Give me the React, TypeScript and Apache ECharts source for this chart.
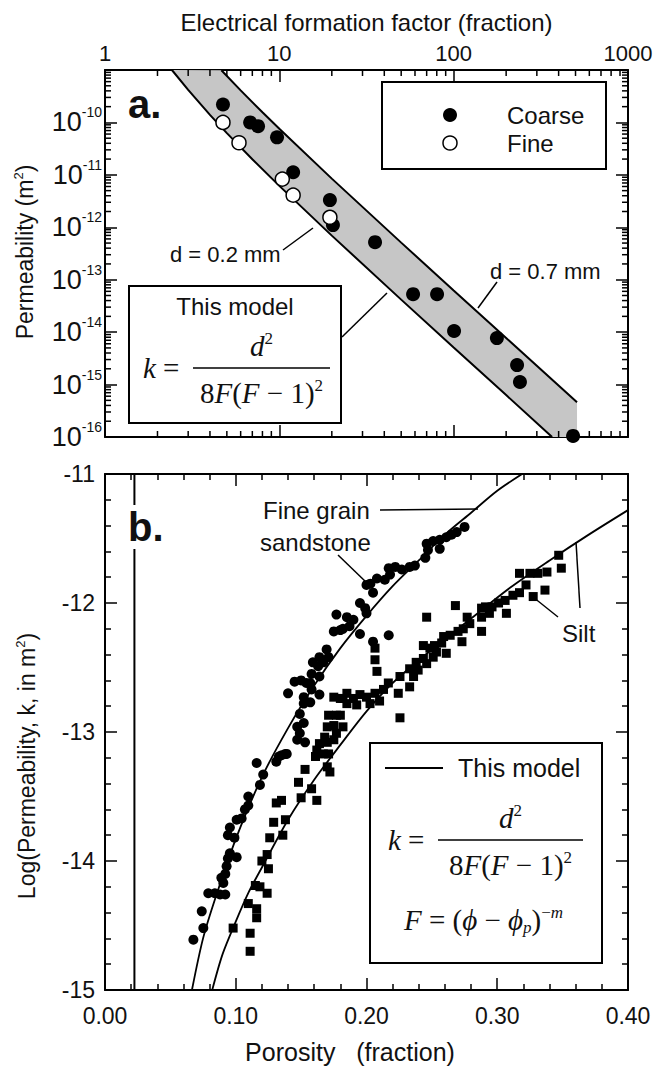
import React, { useEffect, useRef } from "react";
import * as echarts from "echarts";

const SANS = '"Liberation Sans", Arial, Helvetica, sans-serif';
const SERIF = '"Liberation Serif", "Times New Roman", "DejaVu Serif", serif';

// ---------------- Panel a: permeability vs formation factor ----------------
const formationTicks = [1, 10, 100, 1000];
const formationMin = 1;
const formationMax = 1000;
const permMin = 1e-16;
const permMax = 1e-9;

const coarseF = [4.75, 6.8, 7.55, 9.7, 12.0, 19.5, 20.3, 35.4, 58.5, 80.3, 100.5, 177, 231, 240, 484];
const coarseK = [2.2e-10, 1.0e-10, 8.5e-11, 5.2e-11, 1.12e-11, 3.3e-12, 1.1e-12, 5.2e-13, 5.3e-14, 5.3e-14, 1.05e-14, 7.7e-15, 2.35e-15, 1.12e-15, 1.05e-16];
const fineF = [4.75, 5.87, 10.4, 12.0, 19.5];
const fineK = [1.0e-10, 4.1e-11, 8.3e-12, 4.1e-12, 1.55e-12];

// band boundaries (d = 0.2 mm lower, d = 0.7 mm upper)
const bandLowF = [2.42, 3, 4, 5, 7, 10, 20, 50, 100, 200, 367];
const bandLowK = [1.0e-9, 4.17e-10, 1.39e-10, 6.25e-11, 1.98e-11, 6.17e-12, 6.93e-13, 4.17e-14, 5.1e-15, 6.31e-16, 1.0e-16];
const bandHighF = [4.65, 6, 8, 10, 20, 50, 100, 200, 510];
const bandHighK = [9.9e-10, 4.08e-10, 1.56e-10, 7.56e-11, 8.48e-12, 5.1e-13, 6.25e-14, 7.73e-15, 4.6e-16];

// ---------------- Panel b: log permeability vs porosity ----------------
const porosityTicks = [0, 0.1, 0.2, 0.3, 0.4];
const logKTicks = [-15, -14, -13, -12, -11];
const percolationPorosity = 0.0225;

const sandstoneCurve: [number, number][] = [
  [0.0665, -15.0], [0.075, -14.6], [0.085, -14.27], [0.1, -13.83], [0.12, -13.35], [0.14, -12.97],
  [0.16, -12.64], [0.18, -12.35], [0.2, -12.1], [0.22, -11.87], [0.24, -11.67], [0.26, -11.47],
  [0.28, -11.3], [0.3, -11.13], [0.319, -11.0],
];
const siltCurve: [number, number][] = [
  [0.082, -15.0], [0.09, -14.72], [0.1, -14.47], [0.11, -14.24], [0.12, -14.05], [0.14, -13.68],
  [0.16, -13.37], [0.18, -13.1], [0.2, -12.84], [0.22, -12.62], [0.25, -12.36], [0.28, -12.12],
  [0.31, -11.88], [0.34, -11.67], [0.37, -11.47], [0.4, -11.28],
];

const sandstonePoints: [number, number][] = [
  [0.0676, -14.61], [0.0752, -14.52], [0.074, -14.39], [0.079, -14.25], [0.084, -14.25], [0.088, -14.26],
  [0.092, -14.26], [0.0905, -14.17], [0.089, -14.13], [0.092, -14.1], [0.093, -14.04], [0.094, -13.98],
  [0.1007, -13.97], [0.0955, -13.94], [0.094, -13.8], [0.099, -13.82], [0.0955, -13.74], [0.1007, -13.68],
  [0.1045, -13.67], [0.107, -13.6], [0.1096, -13.57], [0.1096, -13.5], [0.1185, -13.41], [0.121, -13.33],
  [0.116, -13.24], [0.131, -13.23], [0.135, -13.18], [0.139, -13.17], [0.147, -13.06], [0.153, -13.08],
  [0.138, -13.17], [0.133, -13.19],
  [0.149, -13.01], [0.152, -12.93], [0.147, -12.96], [0.149, -12.86], [0.152, -12.78], [0.157, -12.77],
  [0.152, -12.73], [0.164, -12.71], [0.158, -12.67], [0.154, -12.62], [0.14, -12.7], [0.145, -12.61],
  [0.15, -12.6], [0.157, -12.62], [0.164, -12.57], [0.158, -12.55], [0.163, -12.49], [0.159, -12.46],
  [0.167, -12.46], [0.164, -12.42], [0.171, -12.42], [0.1695, -12.36], [0.175, -12.22], [0.18, -12.21],
  [0.182, -12.2], [0.187, -12.18], [0.19, -12.13], [0.177, -12.09], [0.185, -12.11], [0.195, -12.24],
  [0.217, -12.25], [0.205, -12.3], [0.195, -12.0], [0.199, -12.04], [0.2, -12.08], [0.2, -11.86],
  [0.205, -11.92], [0.203, -11.85], [0.208, -11.81], [0.214, -11.82], [0.218, -11.78], [0.217, -11.73],
  [0.222, -11.72], [0.227, -11.74], [0.233, -11.72], [0.237, -11.71], [0.245, -11.65], [0.247, -11.59],
  [0.256, -11.58], [0.246, -11.54], [0.251, -11.52], [0.256, -11.51], [0.261, -11.49], [0.265, -11.47],
  [0.269, -11.45], [0.275, -11.41],
];

const siltPoints: [number, number][] = [
  [0.098, -14.52], [0.111, -14.56], [0.111, -14.7], [0.1096, -14.33], [0.116, -14.37], [0.116, -14.44],
  [0.115, -14.19], [0.1185, -14.2], [0.124, -14.25], [0.125, -14.06], [0.12, -14.0], [0.124, -13.95],
  [0.126, -13.82], [0.136, -13.8], [0.129, -13.7], [0.138, -13.68], [0.131, -13.55], [0.135, -13.53],
  [0.148, -13.39], [0.15, -13.51], [0.162, -13.53], [0.153, -13.29], [0.158, -13.44], [0.161, -13.19],
  [0.167, -13.17], [0.17, -13.27], [0.172, -13.31], [0.164, -13.09], [0.17, -13.08], [0.175, -13.06],
  [0.162, -13.14], [0.171, -13.17], [0.168, -13.04], [0.177, -13.01], [0.182, -12.96], [0.17, -12.96],
  [0.175, -12.95], [0.171, -12.87], [0.177, -12.87], [0.185, -12.7], [0.182, -12.74], [0.175, -12.73],
  [0.18, -12.74], [0.19, -12.74], [0.195, -12.71], [0.2, -12.73], [0.2065, -12.7], [0.213, -12.67],
  [0.2027, -12.78], [0.21, -12.76], [0.1925, -12.79], [0.185, -12.78], [0.18, -12.87], [0.2256, -12.89],
  [0.2167, -12.62], [0.2243, -12.7], [0.2256, -12.57], [0.233, -12.65], [0.236, -12.57], [0.2395, -12.52],
  [0.233, -12.51], [0.238, -12.46], [0.246, -12.47], [0.2435, -12.43], [0.251, -12.42], [0.2485, -12.35],
  [0.2435, -12.33], [0.2535, -12.38], [0.261, -12.39], [0.252, -12.33], [0.2575, -12.31], [0.273, -12.3],
  [0.264, -12.25], [0.259, -12.26], [0.27, -12.22], [0.288, -12.22], [0.274, -12.2], [0.279, -12.16],
  [0.277, -12.11], [0.246, -12.11], [0.268, -12.02], [0.288, -12.11], [0.294, -12.08], [0.307, -12.08],
  [0.288, -12.04], [0.291, -12.03], [0.296, -12.03], [0.301, -12.0], [0.306, -11.98], [0.312, -11.94],
  [0.317, -11.92], [0.3365, -11.9], [0.3275, -11.95], [0.322, -11.86], [0.317, -11.77], [0.325, -11.77],
  [0.331, -11.77], [0.338, -11.76], [0.349, -11.73], [0.347, -11.63], [0.2065, -12.35], [0.2065, -12.44],
  [0.208, -12.53],
];

// ---------------- layout ----------------
const GA = { left: 105, top: 70, width: 523, height: 367 };
const GB = { left: 105, top: 474, width: 523, height: 516 };

function buildOption() {
  const frameLine = { show: true, onZero: false, lineStyle: { color: "#000", width: 2 } };
  const tickIn = { show: true, inside: true, length: 12, lineStyle: { color: "#000", width: 1.5 } };
  const noSplit = { show: false };

  // decorative minor ticks of the log axes (2..9 within each decade)
  const minorX: number[][] = [];
  for (let dec = formationMin; dec < formationMax; dec *= 10)
    for (let m = 2; m <= 9; m++) minorX.push([dec * m, 1e-12]);
  const minorY: number[][] = [];
  for (let e = -16; e < -9; e++)
    for (let m = 2; m <= 9; m++) minorY.push([10, m * Math.pow(10, e)]);

  const tickLine = (x1: number, y1: number, x2: number, y2: number) => ({
    type: "line",
    shape: { x1, y1, x2, y2 },
    style: { stroke: "#000", lineWidth: 1.5 },
  });

  const textColor = "#111";
  const T = (x: number, y: number, text: string, fontSize: number, extra: any = {}) => ({
    type: "text",
    x,
    y,
    z: 100,
    style: {
      text,
      fontSize,
      fontFamily: SANS,
      fill: textColor,
      align: "left",
      verticalAlign: "middle",
      ...extra,
    },
  });
  const L = (x1: number, y1: number, x2: number, y2: number, w = 1.5) => ({
    type: "line",
    z: 100,
    shape: { x1, y1, x2, y2 },
    style: { stroke: "#000", lineWidth: w },
  });
  const R = (x: number, y: number, width: number, height: number) => ({
    type: "rect",
    z: 99,
    shape: { x, y, width, height },
    style: { fill: "#fff", stroke: "#000", lineWidth: 2 },
  });

  const FS = 29;
  const mathRich = {
    i: { fontFamily: SERIF, fontStyle: "italic", fontSize: FS, fill: textColor, color: textColor },
    n: { fontFamily: SERIF, fontSize: FS, fill: textColor, color: textColor },
    s: { fontFamily: SERIF, fontSize: 17, fill: textColor, color: textColor, padding: [0, 0, 16, 0] },
    si: { fontFamily: SERIF, fontStyle: "italic", fontSize: 17, fill: textColor, color: textColor, padding: [0, 0, 16, 0] },
    sub: { fontFamily: SERIF, fontStyle: "italic", fontSize: 17, fill: textColor, color: textColor, padding: [14, 0, 0, 0] },
  };
  const M = (x: number, y: number, text: string, align = "center") => ({
    type: "text",
    x,
    y,
    z: 100,
    style: { text, rich: mathRich, fontFamily: SERIF, fontSize: FS, fill: textColor, align, verticalAlign: "middle" },
  });
  const fraction = (kx: number, barX1: number, barX2: number, barY: number) => {
    const cx = (barX1 + barX2) / 2;
    return [
      M(kx, barY, "{i|k}{n| =}", "left"),
      L(barX1, barY, barX2, barY, 1.5),
      M(cx, barY - 22, "{i|d}{s|2}"),
      M(cx, barY + 25, "{n|8}{i|F}{n|(}{i|F}{n| − 1)}{s|2}"),
    ];
  };

  const supRich = (base: number, sup: number, lift: number) => ({
    b: { fontSize: base, fontFamily: SANS, color: textColor, fill: textColor },
    s: { fontSize: sup, fontFamily: SANS, color: textColor, fill: textColor, padding: [0, 0, lift, 0] },
  });

  const graphic: any[] = [
    // panel a
    T(GA.left + GA.width / 2, 22, "Electrical formation factor (fraction)", 24, { align: "center" }),
    {
      type: "text",
      x: 25,
      y: 252,
      rotation: Math.PI / 2,
      z: 100,
      style: {
        text: "Permeability (m{s|2})",
        rich: supRich(23, 13, 14),
        fontSize: 23,
        fontFamily: SANS,
        fill: textColor,
        align: "center",
        verticalAlign: "middle",
      },
    },
    T(128, 104, "a.", 40, { fontWeight: "bold" }),
    R(382, 82, 224, 87),
    { type: "circle", z: 100, shape: { cx: 450, cy: 115, r: 7 }, style: { fill: "#000" } },
    { type: "circle", z: 100, shape: { cx: 450, cy: 143, r: 7 }, style: { fill: "#fff", stroke: "#000", lineWidth: 1.5 } },
    T(507, 115, "Coarse", 24),
    T(507, 143, "Fine", 24),
    T(170, 254, "d = 0.2 mm", 22),
    L(283, 250, 313, 228),
    T(490, 271, "d = 0.7 mm", 22),
    L(497, 282, 478, 308),
    R(129, 286, 212, 137),
    T(235, 306, "This model", 24, { align: "center" }),
    L(342, 337, 387, 293),
    ...fraction(143, 193, 330, 368),

    // panel b
    T(126, 527, "b.", 40, { fontWeight: "bold", backgroundColor: "#fff", padding: [2, 2, 2, 2] }),
    T(263, 510, "Fine grain", 24),
    L(380, 510, 478, 509),
    T(260, 542, "sandstone", 24),
    L(338, 555, 367, 583),
    T(562, 633, "Silt", 24),
    L(558, 617, 533, 597),
    L(580, 608, 576, 542),
    R(370, 743, 232, 220),
    L(385, 768, 443, 768, 2),
    T(458, 768, "This model", 25),
    ...fraction(388, 438, 583, 840),
    M(404, 920, "{i|F}{n| = (}{i|ϕ}{n| − }{i|ϕ}{sub|p}{n|)}{s|−}{si|m}", "left"),
    T(350, 1052, "Porosity\u00a0\u00a0\u00a0(fraction)", 25, { align: "center" }),
    {
      type: "text",
      x: 27,
      y: 766,
      rotation: Math.PI / 2,
      z: 100,
      style: {
        text: "Log(Permeability, k, in m{s|2})",
        rich: supRich(23, 13, 14),
        fontSize: 23,
        fontFamily: SANS,
        fill: textColor,
        align: "center",
        verticalAlign: "middle",
      },
    },
  ];

  const logXCommon = {
    type: "log",
    logBase: 10,
    gridIndex: 0,
    min: formationMin,
    max: formationMax,
    axisLine: frameLine,
    axisTick: tickIn,
    splitLine: noSplit,
  };
  const logYCommon = {
    type: "log",
    logBase: 10,
    gridIndex: 0,
    min: permMin,
    max: permMax,
    axisLine: frameLine,
    axisTick: tickIn,
    splitLine: noSplit,
  };
  const minorTick = { show: true, splitNumber: 5, length: 6, lineStyle: { color: "#000", width: 1.5 } };
  const valXCommon = {
    type: "value",
    gridIndex: 1,
    min: porosityTicks[0],
    max: porosityTicks[porosityTicks.length - 1],
    interval: 0.1,
    axisLine: frameLine,
    axisTick: tickIn,
    minorTick,
    splitLine: noSplit,
  };
  const valYCommon = {
    type: "value",
    gridIndex: 1,
    min: logKTicks[0],
    max: logKTicks[logKTicks.length - 1],
    interval: 1,
    axisLine: frameLine,
    axisTick: tickIn,
    minorTick,
    splitLine: noSplit,
  };

  return {
    animation: false,
    backgroundColor: "#fff",
    grid: [
      { ...GA, containLabel: false },
      { ...GB, containLabel: false },
    ],
    xAxis: [
      {
        ...logXCommon,
        position: "top",
        axisLabel: {
          fontSize: 22,
          fontFamily: SANS,
          color: textColor,
          margin: 6,
          formatter: (v: number) => (formationTicks.includes(Math.round(v)) ? String(Math.round(v)) : ""),
        },
      },
      { ...logXCommon, position: "bottom", axisLabel: { show: false } },
      {
        ...valXCommon,
        position: "bottom",
        axisLabel: {
          fontSize: 23,
          fontFamily: SANS,
          color: textColor,
          margin: 14,
          formatter: (v: number) => v.toFixed(2),
        },
      },
      { ...valXCommon, position: "top", axisLabel: { show: false } },
    ],
    yAxis: [
      {
        ...logYCommon,
        position: "left",
        axisLabel: {
          margin: 3,
          formatter: (v: number) => {
            const e = Math.round(Math.log10(v));
            return e === -9 ? "" : `{b|10}{s|${e}}`;
          },
          rich: supRich(27, 14, 20),
        },
      },
      { ...logYCommon, position: "right", axisLabel: { show: false } },
      {
        ...valYCommon,
        position: "left",
        axisLabel: { fontSize: 23, fontFamily: SANS, color: textColor, margin: 10 },
      },
      { ...valYCommon, position: "right", axisLabel: { show: false } },
    ],
    series: [
      // ---- panel a ----
      {
        type: "custom",
        name: "band",
        xAxisIndex: 0,
        yAxisIndex: 0,
        z: 1,
        silent: true,
        data: [[10, 1e-12]],
        renderItem: (_p: any, api: any) => {
          const pts: number[][] = [];
          bandHighF.forEach((f, i) => pts.push(api.coord([f, bandHighK[i]])));
          pts.push(api.coord([bandHighF[bandHighF.length - 1], permMin]));
          for (let i = bandLowF.length - 1; i >= 0; i--) pts.push(api.coord([bandLowF[i], bandLowK[i]]));
          return { type: "polygon", shape: { points: pts }, style: { fill: "#c6c6c6" } };
        },
      },
      {
        type: "line",
        name: "d = 0.2 mm",
        xAxisIndex: 0,
        yAxisIndex: 0,
        z: 3,
        symbol: "none",
        silent: true,
        lineStyle: { color: "#000", width: 2 },
        data: bandLowF.map((f, i) => [f, bandLowK[i]]),
      },
      {
        type: "line",
        name: "d = 0.7 mm",
        xAxisIndex: 0,
        yAxisIndex: 0,
        z: 3,
        symbol: "none",
        silent: true,
        lineStyle: { color: "#000", width: 2 },
        data: bandHighF.map((f, i) => [f, bandHighK[i]]),
      },
      {
        type: "scatter",
        name: "Coarse",
        xAxisIndex: 0,
        yAxisIndex: 0,
        z: 4,
        symbol: "circle",
        symbolSize: 14,
        itemStyle: { color: "#000", opacity: 1 },
        data: coarseF.map((f, i) => [f, coarseK[i]]),
      },
      {
        type: "scatter",
        name: "Fine",
        xAxisIndex: 0,
        yAxisIndex: 0,
        z: 5,
        symbol: "circle",
        symbolSize: 14,
        itemStyle: { color: "#fff", borderColor: "#000", borderWidth: 1.5, opacity: 1 },
        data: fineF.map((f, i) => [f, fineK[i]]),
      },
      {
        type: "custom",
        name: "minorX",
        xAxisIndex: 0,
        yAxisIndex: 0,
        silent: true,
        z: 6,
        data: minorX,
        renderItem: (_p: any, api: any) => {
          const v = api.value(0);
          const a = api.coord([v, permMax]);
          const b = api.coord([v, permMin]);
          return {
            type: "group",
            children: [tickLine(a[0], a[1], a[0], a[1] + 6), tickLine(b[0], b[1], b[0], b[1] - 6)],
          };
        },
      },
      {
        type: "custom",
        name: "minorY",
        xAxisIndex: 0,
        yAxisIndex: 0,
        silent: true,
        z: 6,
        data: minorY,
        renderItem: (_p: any, api: any) => {
          const v = api.value(1);
          const a = api.coord([formationMin, v]);
          const b = api.coord([formationMax, v]);
          return {
            type: "group",
            children: [tickLine(a[0], a[1], a[0] + 6, a[1]), tickLine(b[0], b[1], b[0] - 6, b[1])],
          };
        },
      },
      // ---- panel b ----
      {
        type: "line",
        name: "percolation porosity",
        xAxisIndex: 2,
        yAxisIndex: 2,
        symbol: "none",
        silent: true,
        lineStyle: { color: "#000", width: 2 },
        data: [
          [percolationPorosity, logKTicks[0]],
          [percolationPorosity, logKTicks[logKTicks.length - 1]],
        ],
      },
      {
        type: "line",
        name: "This model (sandstone)",
        xAxisIndex: 2,
        yAxisIndex: 2,
        symbol: "none",
        smooth: 0.3,
        silent: true,
        lineStyle: { color: "#000", width: 1.8 },
        data: sandstoneCurve,
      },
      {
        type: "line",
        name: "This model (silt)",
        xAxisIndex: 2,
        yAxisIndex: 2,
        symbol: "none",
        smooth: 0.3,
        silent: true,
        lineStyle: { color: "#000", width: 1.8 },
        data: siltCurve,
      },
      {
        type: "scatter",
        name: "Fine grain sandstone",
        xAxisIndex: 2,
        yAxisIndex: 2,
        symbol: "circle",
        symbolSize: 10,
        itemStyle: { color: "#000", opacity: 1 },
        data: sandstonePoints,
      },
      {
        type: "scatter",
        name: "Silt",
        xAxisIndex: 2,
        yAxisIndex: 2,
        symbol: "rect",
        symbolSize: 9,
        itemStyle: { color: "#000", opacity: 1 },
        data: siltPoints,
      },
    ],
    graphic,
  };
}

export default function App() {
  const ref = useRef<HTMLDivElement>(null);
  useEffect(() => {
    if (!ref.current) return;
    const chart = echarts.init(ref.current, null, { renderer: "svg" });
    chart.setOption(buildOption() as any);
    return () => chart.dispose();
  }, []);
  return (
    <div
      ref={ref}
      style={{ position: "absolute", left: 0, top: 0, width: 663, height: 1069, background: "#fff" }}
    />
  );
}
